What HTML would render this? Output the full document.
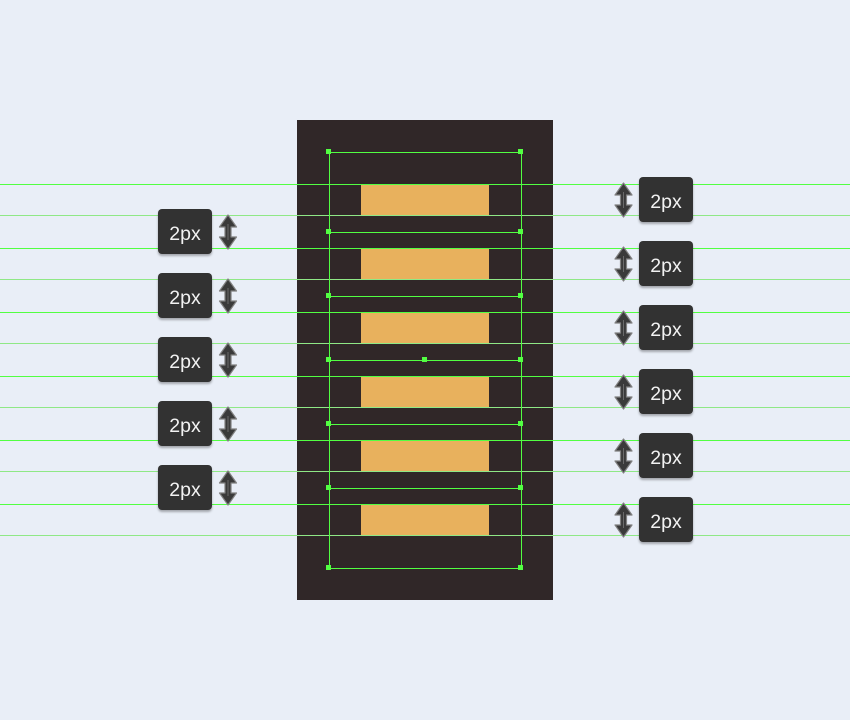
<!DOCTYPE html>
<html>
<head>
<meta charset="utf-8">
<style>
html,body{margin:0;padding:0;background:#e9eef7;}
body{width:850px;height:720px;overflow:hidden;}
svg{display:block;}
</style>
</head>
<body>
<svg width="850" height="720" viewBox="0 0 850 720" xmlns="http://www.w3.org/2000/svg">
<defs>
<filter id="sh" x="-20%" y="-20%" width="140%" height="150%">
<feDropShadow dx="0" dy="2" stdDeviation="1" flood-color="#000" flood-opacity="0.3"/>
</filter>
<g id="arr">
<path d="M0,0 L8.5,12 L3,12 L3,22 L8.5,22 L0,34 L-8.5,22 L-3,22 L-3,12 L-8.5,12 Z" fill="#3a3a3a" stroke="#808080" stroke-width="1.2" stroke-linejoin="round"/>
<line x1="0" y1="9" x2="0" y2="25" stroke="#6a6a6a" stroke-width="1"/>
</g>
<g id="lbl">
<rect x="0" y="0" width="54" height="45" rx="4" ry="4" fill="#323232" filter="url(#sh)"/>
<text x="27" y="31" text-anchor="middle" font-family="Liberation Sans, sans-serif" font-size="19.5" fill="#f2f2f2">2px</text>
</g>
</defs>
<rect x="0" y="0" width="850" height="720" fill="#e9eef7"/>
<!-- dark panel -->
<rect x="297" y="120" width="256" height="480" fill="#302728"/>
<!-- yellow bars -->
<g fill="#e8b15d">
<rect x="361" y="184" width="128" height="32"/>
<rect x="361" y="248" width="128" height="32"/>
<rect x="361" y="312" width="128" height="32"/>
<rect x="361" y="376" width="128" height="32"/>
<rect x="361" y="440" width="128" height="32"/>
<rect x="361" y="504" width="128" height="32"/>
</g>
<!-- full-width guide lines -->
<g stroke="#52ff42" stroke-width="1" shape-rendering="crispEdges">
<line x1="0" y1="184.5" x2="850" y2="184.5"/>
<line x1="0" y1="248.5" x2="850" y2="248.5"/>
<line x1="0" y1="312.5" x2="850" y2="312.5"/>
<line x1="0" y1="376.5" x2="850" y2="376.5"/>
<line x1="0" y1="440.5" x2="850" y2="440.5"/>
<line x1="0" y1="504.5" x2="850" y2="504.5"/>
</g>
<g stroke="#8fe886" stroke-width="1" shape-rendering="crispEdges">
<line x1="0" y1="215.5" x2="850" y2="215.5"/>
<line x1="0" y1="279.5" x2="850" y2="279.5"/>
<line x1="0" y1="343.5" x2="850" y2="343.5"/>
<line x1="0" y1="407.5" x2="850" y2="407.5"/>
<line x1="0" y1="471.5" x2="850" y2="471.5"/>
<line x1="0" y1="535.5" x2="850" y2="535.5"/>
</g>
<!-- selection bracket -->
<g stroke="#52ff42" stroke-width="1" shape-rendering="crispEdges">
<line x1="329.5" y1="152" x2="329.5" y2="568"/>
<line x1="521.5" y1="152" x2="521.5" y2="568"/>
<line x1="329" y1="152.5" x2="521" y2="152.5"/>
<line x1="329" y1="232.5" x2="521" y2="232.5"/>
<line x1="329" y1="296.5" x2="521" y2="296.5"/>
<line x1="329" y1="360.5" x2="521" y2="360.5"/>
<line x1="329" y1="424.5" x2="521" y2="424.5"/>
<line x1="329" y1="488.5" x2="521" y2="488.5"/>
<line x1="329" y1="568.5" x2="521" y2="568.5"/>
</g>
<g fill="#52ff42">
<rect x="326" y="149" width="5" height="5"/><rect x="518" y="149" width="5" height="5"/>
<rect x="326" y="229" width="5" height="5"/><rect x="518" y="229" width="5" height="5"/>
<rect x="326" y="293" width="5" height="5"/><rect x="518" y="293" width="5" height="5"/>
<rect x="326" y="357" width="5" height="5"/><rect x="518" y="357" width="5" height="5"/>
<rect x="422" y="357" width="5" height="5"/>
<rect x="326" y="421" width="5" height="5"/><rect x="518" y="421" width="5" height="5"/>
<rect x="326" y="485" width="5" height="5"/><rect x="518" y="485" width="5" height="5"/>
<rect x="326" y="565" width="5" height="5"/><rect x="518" y="565" width="5" height="5"/>
</g>
<!-- left labels -->
<use href="#lbl" x="158" y="209"/>
<use href="#lbl" x="158" y="273"/>
<use href="#lbl" x="158" y="337"/>
<use href="#lbl" x="158" y="401"/>
<use href="#lbl" x="158" y="465"/>
<use href="#arr" x="228" y="215"/>
<use href="#arr" x="228" y="279"/>
<use href="#arr" x="228" y="343"/>
<use href="#arr" x="228" y="407"/>
<use href="#arr" x="228" y="471"/>
<!-- right labels -->
<use href="#lbl" x="639" y="177"/>
<use href="#lbl" x="639" y="241"/>
<use href="#lbl" x="639" y="305"/>
<use href="#lbl" x="639" y="369"/>
<use href="#lbl" x="639" y="433"/>
<use href="#lbl" x="639" y="497"/>
<use href="#arr" x="623.5" y="183"/>
<use href="#arr" x="623.5" y="247"/>
<use href="#arr" x="623.5" y="311"/>
<use href="#arr" x="623.5" y="375"/>
<use href="#arr" x="623.5" y="439"/>
<use href="#arr" x="623.5" y="503"/>
</svg>
</body>
</html>
